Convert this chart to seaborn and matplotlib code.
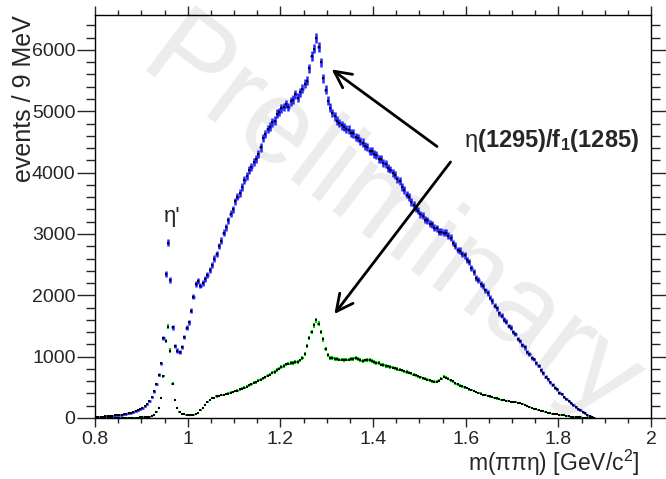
import numpy as np
import pandas as pd
import matplotlib
matplotlib.use("Agg")
import matplotlib.pyplot as plt
import seaborn as sns
from matplotlib.ticker import MultipleLocator, FuncFormatter

# ---------------- data (bin contents, 5 MeV bins starting at 0.8 GeV) ----------------
bin_start = 0.8
bin_width = 0.005

all_events = [
    15, 17, 20, 23, 27, 30, 33, 37, 42, 46,
    52, 57, 64, 70, 78, 88, 99, 110, 126, 142,
    165, 192, 228, 280, 345, 435, 555, 705, 890, 1300,
    2350, 2860, 2250, 1480, 1170, 1100, 1070, 1160, 1320, 1470,
    1560, 1750, 1980, 2190, 2230, 2160, 2200, 2270, 2330, 2420,
    2500, 2600, 2670, 2800, 2890, 3020, 3110, 3220, 3330, 3400,
    3530, 3610, 3670, 3770, 3880, 3940, 4040, 4090, 4180, 4220,
    4310, 4410, 4570, 4630, 4710, 4750, 4820, 4850, 4960, 4990,
    5050, 5070, 5120, 5070, 5160, 5190, 5280, 5220, 5310, 5370,
    5450, 5500, 5700, 5900, 6020, 6200, 6050, 5800, 5540, 5350,
    5170, 5060, 4970, 4920, 4850, 4810, 4770, 4740, 4710, 4700,
    4650, 4640, 4580, 4570, 4510, 4490, 4440, 4420, 4360, 4350,
    4300, 4290, 4230, 4220, 4160, 4140, 4070, 4050, 3990, 3960,
    3890, 3860, 3770, 3720, 3640, 3600, 3520, 3480, 3410, 3380,
    3320, 3300, 3230, 3220, 3170, 3160, 3100, 3090, 3040, 3040,
    3020, 3020, 2970, 2940, 2850, 2810, 2740, 2730, 2670, 2650,
    2580, 2540, 2450, 2380, 2280, 2250, 2180, 2150, 2080, 2040,
    1960, 1910, 1830, 1790, 1710, 1670, 1600, 1570, 1500, 1470,
    1400, 1370, 1290, 1260, 1190, 1150, 1080, 1050, 980, 955,
    895, 855, 785, 735, 675, 635, 585, 545, 495, 465,
    415, 392, 345, 312, 275, 248, 205, 183, 148, 127,
    98, 77, 53, 31, 12, 3, 0, 0, 0, 0,
]

selected_events = [
    0, 0, 0, 0, 1, 1, 1, 1, 2, 2,
    2, 3, 3, 4, 4, 5, 6, 7, 8, 9,
    10, 12, 15, 20, 32, 55, 95, 170, 330, 680,
    1250, 1490, 1100, 560, 290, 160, 100, 72, 58, 50,
    47, 46, 52, 66, 88, 125, 170, 215, 260, 295,
    320, 332, 352, 358, 374, 378, 392, 398, 414, 422,
    442, 448, 467, 478, 497, 508, 532, 548, 572, 583,
    607, 622, 648, 662, 692, 707, 738, 752, 783, 806,
    832, 846, 873, 886, 902, 900, 918, 916, 938, 980,
    1050, 1170, 1300, 1400, 1510, 1590, 1540, 1400, 1280, 1120,
    1020, 985, 972, 962, 962, 952, 952, 942, 952, 952,
    962, 962, 978, 958, 942, 928, 938, 942, 942, 928,
    918, 898, 892, 872, 862, 848, 842, 828, 822, 808,
    802, 788, 777, 762, 752, 738, 727, 708, 697, 678,
    667, 648, 642, 622, 612, 598, 592, 588, 607, 638,
    672, 658, 642, 618, 602, 568, 547, 528, 517, 498,
    487, 468, 457, 438, 427, 408, 397, 378, 372, 358,
    352, 338, 332, 318, 312, 298, 292, 280, 277, 268,
    266, 253, 249, 238, 231, 213, 201, 183, 171, 153,
    141, 126, 119, 106, 99, 88, 83, 72, 68, 58,
    55, 46, 43, 34, 32, 24, 23, 16, 15, 10,
    8, 6, 4, 2, 1, 0, 0, 0, 0, 0,
]

x_ticks = [0.8, 1.0, 1.2, 1.4, 1.6, 1.8, 2.0]
y_ticks = [0, 1000, 2000, 3000, 4000, 5000, 6000]

# ---------------- style ----------------
sns.set_style("ticks")
plt.rcParams["font.family"] = ["Liberation Sans", "DejaVu Sans"]
plt.rcParams["mathtext.fontset"] = "custom"
plt.rcParams["mathtext.rm"] = "Liberation Sans"
plt.rcParams["mathtext.it"] = "Liberation Sans:italic"
plt.rcParams["mathtext.bf"] = "Liberation Sans:bold"

centers = bin_start + bin_width * (np.arange(len(all_events)) + 0.5)
df = pd.DataFrame({"m": centers,
                   "all": np.array(all_events, float),
                   "sel": np.array(selected_events, float)})

fig = plt.figure(figsize=(6.66, 4.79), dpi=100)
ax = fig.add_axes([95 / 666, 61 / 479, 556 / 666, 403 / 479])

# watermark
ax.text(1.435, 3170, "Preliminary", rotation=-37, fontsize=85, color="#ececec",
        ha="center", va="center", zorder=0)

d_all = df[df["all"] > 0]
d_sel = df[df["sel"] > 0]

ax.errorbar(d_all["m"], d_all["all"], yerr=np.sqrt(d_all["all"]),
            xerr=bin_width / 2, fmt="none", ecolor="#1010ff", elinewidth=1.8,
            alpha=0.9, zorder=2)
sns.scatterplot(data=d_all, x="m", y="all", color="black", marker="s", s=1.2,
                linewidth=0, ax=ax, zorder=3)

ax.errorbar(d_sel["m"], d_sel["sel"], yerr=np.sqrt(d_sel["sel"]),
            xerr=bin_width / 2, fmt="none", ecolor="#00c800", elinewidth=1.5,
            zorder=2)
sns.scatterplot(data=d_sel, x="m", y="sel", color="black", marker="s", s=0.8,
                linewidth=0, ax=ax, zorder=3)

ax.set_xlim(0.8, 2.0)
ax.set_ylim(0, 6570)
ax.set_xticks(x_ticks)
ax.set_yticks(y_ticks)
ax.xaxis.set_minor_locator(MultipleLocator(0.05))
ax.yaxis.set_minor_locator(MultipleLocator(200))
ax.xaxis.set_major_formatter(FuncFormatter(lambda v, p: f"{v:g}"))
ax.tick_params(axis="y", which="major", direction="out", length=13, width=1,
               labelsize=14, left=True, right=True, pad=1)
ax.tick_params(axis="y", which="minor", direction="out", length=6.5, width=1,
               left=True, right=True)
ax.tick_params(axis="x", which="major", direction="out", length=6.5, width=1,
               labelsize=14, bottom=True, top=True, pad=3)
ax.tick_params(axis="x", which="minor", direction="out", length=3.5, width=1,
               bottom=True, top=True)
for s in ax.spines.values():
    s.set_linewidth(1)
    s.set_color("black")

ax.set_xlabel("m(ππη) [GeV/c$^{2}$]", fontsize=16.5, loc="right")
ax.xaxis.set_label_coords(0.98, -0.075)
ax.set_ylabel("events / 9 MeV", fontsize=18, loc="top")
ax.yaxis.set_label_coords(-0.106, 1.0)

# annotations
ax.text(0.966, 3290, "η'", fontsize=16, ha="center", va="center")
ax.text(1.597, 4530, r"$\mathrm{\eta}\mathbf{(1295)/f_{1}(1285)}$", fontsize=17,
        ha="left", va="center")
arrow = dict(arrowstyle="->,head_length=1.2,head_width=0.6", lw=2, color="black")
ax.annotate("", xy=(1.306, 5710), xytext=(1.543, 4400), arrowprops=arrow)
ax.annotate("", xy=(1.313, 1660), xytext=(1.571, 4210), arrowprops=arrow)

fig.savefig("out.png", dpi=100)
